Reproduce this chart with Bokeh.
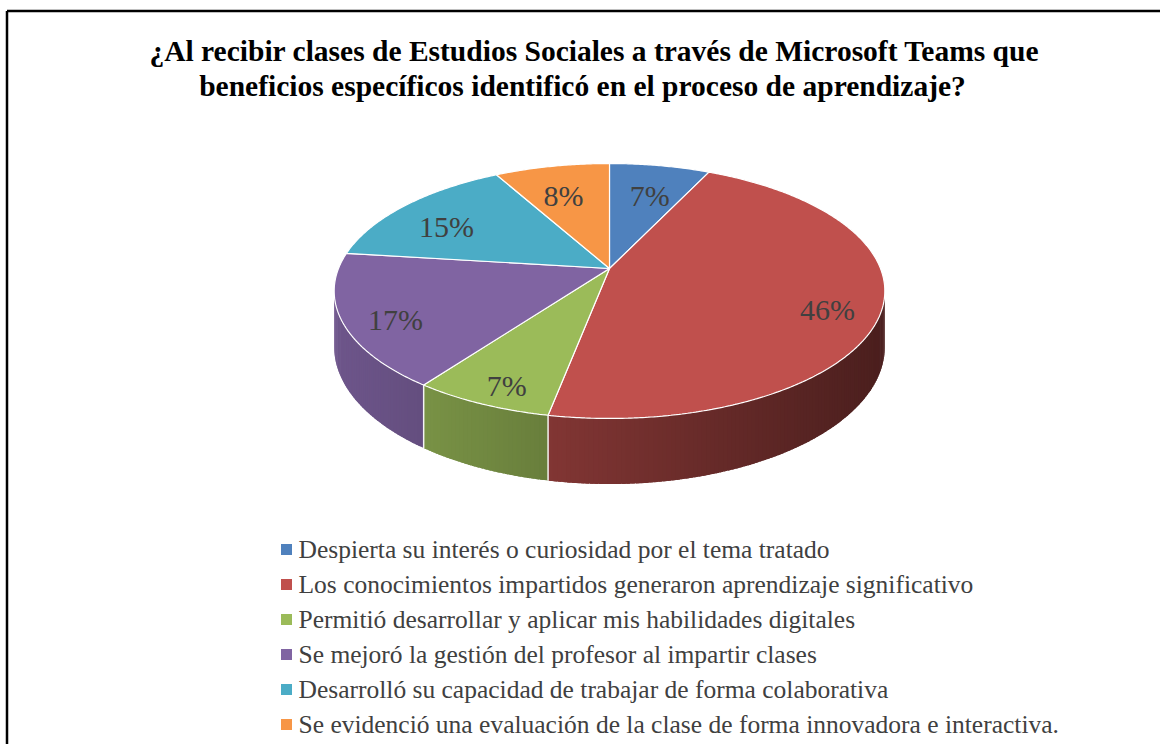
import numpy as np
from bokeh.plotting import figure
from bokeh.models import Range1d
from bokeh.embed import file_html
from bokeh.resources import INLINE
from bokeh.core.properties import value

# ---------------- data ----------------
title_lines = [
    "¿Al recibir clases de Estudios Sociales a través de Microsoft Teams que",
    "beneficios específicos identificó en el proceso de aprendizaje?",
]
categories = [
    "Despierta su interés o curiosidad por el tema tratado",
    "Los conocimientos impartidos generaron aprendizaje significativo",
    "Permitió desarrollar y aplicar mis habilidades digitales",
    "Se mejoró la gestión del profesor al impartir clases",
    "Desarrolló su capacidad de trabajar de forma colaborativa",
    "Se evidenció una evaluación de la clase de forma innovadora e interactiva.",
]
percent = [7, 46, 7, 17, 15, 8]
colors = ["#4F81BD", "#C0504D", "#9BBB59", "#8064A2", "#4BACC6", "#F79646"]

# ---------------- layout ----------------
W, H = 1160, 744
CX, CY = 609, 268                 # pie apex
A, B, K = 271.0, 123.5, 0.1765    # perspective ellipse params
DEPTH = 54.0

def proj(theta_deg, r=1.0):
    t = np.radians(theta_deg)
    x = r * np.sin(t)
    y = r * np.cos(t)
    w = 1 + K * y
    return CX + A * x / w, CY - B * y / w, w

def bottom(theta_deg):
    sx, sy, w = proj(theta_deg)
    return sx, sy + DEPTH / w

def hex_scale(hexcol, f):
    h = hexcol.lstrip("#")
    r, g, b = (int(h[i:i + 2], 16) for i in (0, 2, 4))
    return "#%02x%02x%02x" % (int(min(255, r * f)), int(min(255, g * f)), int(min(255, b * f)))

p = figure(width=W, height=H, x_range=Range1d(0, W), y_range=Range1d(H, 0),
           output_backend="svg", toolbar_location=None, min_border=0)
p.axis.visible = False
p.grid.visible = False
p.outline_line_color = None
p.background_fill_color = "white"

total = float(sum(percent))
angles = np.cumsum([0] + [v / total * 360.0 for v in percent])

# ---------------- side walls (gradient strips) ----------------
vis_lo = np.degrees(np.arccos(-K))
vis_hi = 360 - vis_lo
xleft = CX - A / np.sqrt(1 - K * K)
xright = CX + A / np.sqrt(1 - K * K)

sxs, sys_, scol = [], [], []
for i, col in enumerate(colors):
    a0, a1 = max(angles[i], vis_lo), min(angles[i + 1], vis_hi)
    if a1 <= a0:
        continue
    step = 0.8
    n = max(2, int((a1 - a0) / step))
    ts = np.linspace(a0, a1, n + 1)
    for ta, tb in zip(ts[:-1], ts[1:]):
        te = min(tb + (tb - ta) * 0.8, a1)   # overlap to hide seams
        xa, ya, _ = proj(ta)
        xb, yb, _ = proj(te)
        bxa, bya = bottom(ta)
        bxb, byb = bottom(te)
        xm = (proj((ta + tb) / 2)[0])
        f = 0.86 - 0.47 * (xm - xleft) / (xright - xleft)
        c = hex_scale(col, f)
        sxs.append([xa, xb, bxb, bxa])
        sys_.append([ya, yb, byb, bya])
        scol.append(c)
p.patches(sxs, sys_, fill_color=scol, line_color=None)

# white edges between side segments
for i in range(1, len(colors)):
    a = angles[i]
    if vis_lo < a < vis_hi:
        x0, y0, _ = proj(a)
        x1, y1 = bottom(a)
        p.line([x0, x1], [y0, y1], line_color="white", line_width=1.5, line_alpha=0.9)

# ---------------- top faces ----------------
txs, tys = [], []
for i in range(len(colors)):
    ts = np.linspace(angles[i], angles[i + 1], max(3, int((angles[i + 1] - angles[i]) / 0.5)))
    xs, ys, _ = proj(ts)
    txs.append([CX] + list(xs))
    tys.append([CY] + list(ys))
p.patches(txs, tys, fill_color=colors, line_color="white", line_width=1.2)

# ---------------- labels ----------------
lx, ly, lt = [], [], []
for i, v in enumerate(percent):
    mid = (angles[i] + angles[i + 1]) / 2
    rx, ry, _ = proj(mid)
    lx.append(CX + 0.8 * (rx - CX))
    ly.append(CY + 0.8 * (ry - CY) + 9)
    lt.append("%d%%" % v)
p.text(lx, ly, text=lt, text_font=value("Liberation Serif"), text_font_size="30px",
       text_color="#404040", text_align="center", text_baseline="middle")

# ---------------- title ----------------
p.text([594, 582], [50, 85], text=title_lines,
       text_font=value("Liberation Serif"), text_font_style="bold",
       text_font_size="29.5px", text_color="black",
       text_align="center", text_baseline="middle")

# ---------------- legend ----------------
ny = len(categories)
leg_y = [549 + 35 * k for k in range(ny)]
p.rect([286] * ny, leg_y, width=11, height=11, fill_color=colors, line_color=None)
p.text([298] * ny, leg_y, text=categories, text_font=value("Liberation Serif"),
       text_font_size="25.5px", text_color="#404040", text_align="left", text_baseline="middle")

# ---------------- frame ----------------
p.line([6.5, 6.5], [10.5, H], line_color="black", line_width=2.5)
p.line([6.5, W], [10.5, 10.5], line_color="black", line_width=2.5)

open("out.html", "w").write(file_html(p, INLINE))
